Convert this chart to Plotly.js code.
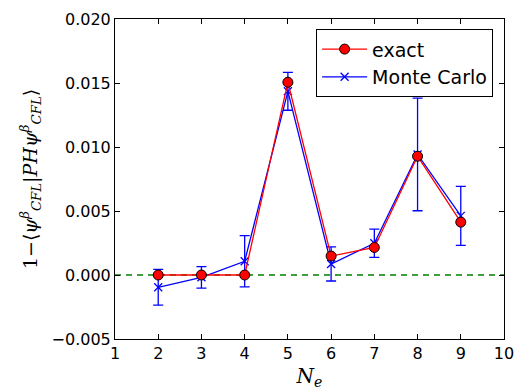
<!DOCTYPE html>
<html><head><meta charset="utf-8">
<script src="https://cdn.plot.ly/plotly-3.0.1.min.js"></script>
<style>body{margin:0;background:#fff}#plot{width:520px;height:390px}</style>
</head><body><div id="plot"></div>
<script>
const Ne = [2, 3, 4, 5, 6, 7, 8, 9];
const exact = [0.0, 0.0, 0.0, 0.01506, 0.00148, 0.00215, 0.00928, 0.00413];
const mc = [-0.00096, -0.00018, 0.00107, 0.01435, 0.00086, 0.00248, 0.00942, 0.00462];
const mcErr = [0.0014, 0.00084, 0.002, 0.00148, 0.00133, 0.0011, 0.0044, 0.0023];
const xTicks = [1, 2, 3, 4, 5, 6, 7, 8, 9, 10];
const yTicks = [-0.005, 0.0, 0.005, 0.01, 0.015, 0.02];
const yTickText = ['\u22120.005', '0.000', '0.005', '0.010', '0.015', '0.020'];

const traces = [
  {x: Ne, y: mc, name: 'Monte Carlo', type: 'scatter', mode: 'lines+markers',
   line: {color: '#0000ff', width: 1.3},
   marker: {symbol: 'x-thin', size: 8, line: {color: '#0000ff', width: 1.3}},
   error_y: {type: 'data', array: mcErr, visible: true, color: '#0000ff', thickness: 1.3, width: 5}},
  {x: Ne, y: exact, name: 'exact', type: 'scatter', mode: 'lines+markers',
   line: {color: '#ff0000', width: 1.3},
   marker: {symbol: 'circle', size: 10, color: '#ff0000', line: {color: '#000000', width: 1}}}
];
const axisCommon = {
  showline: true, mirror: 'ticks', linecolor: '#000', linewidth: 1,
  ticks: 'inside', ticklen: 5, tickcolor: '#000', showgrid: false, zeroline: false,
  tickfont: {family: 'DejaVu Sans', size: 16, color: '#000'}
};
const layout = {
  width: 520, height: 390,
  margin: {l: 115, r: 16, t: 19, b: 51},
  paper_bgcolor: '#fff', plot_bgcolor: '#fff',
  showlegend: true,
  legend: {x: 0.972, y: 0.968, xanchor: 'right', yanchor: 'top', traceorder: 'reversed',
    bgcolor: '#fff', bordercolor: '#000', borderwidth: 1, itemwidth: 45,
    font: {family: 'DejaVu Sans', size: 19, color: '#000'}},
  xaxis: Object.assign({}, axisCommon, {range: [1, 10], tickvals: xTicks,
    title: {text: '<i>N<sub>e</sub></i>', font: {family: 'DejaVu Serif', size: 20, color: '#000'}, standoff: 6}}),
  yaxis: Object.assign({}, axisCommon, {range: [-0.005, 0.02], tickvals: yTicks, ticktext: yTickText,
    title: {text: '1\u2212\u27e8<i>\u03c8<sup>\u03b2</sup><sub>CFL</sub></i>|<i>PH\u03c8<sup>\u03b2</sup><sub>CFL</sub></i>\u27e9',
      font: {family: 'DejaVu Serif', size: 19, color: '#000'}, standoff: 8}}),
  shapes: [{type: 'line', xref: 'paper', x0: 0, x1: 1, yref: 'y', y0: 0, y1: 0,
    line: {color: '#008000', width: 1.3, dash: '6px,5px'}, layer: 'below'}]
};
Plotly.newPlot('plot', traces, layout, {displayModeBar: false});
</script></body></html>
